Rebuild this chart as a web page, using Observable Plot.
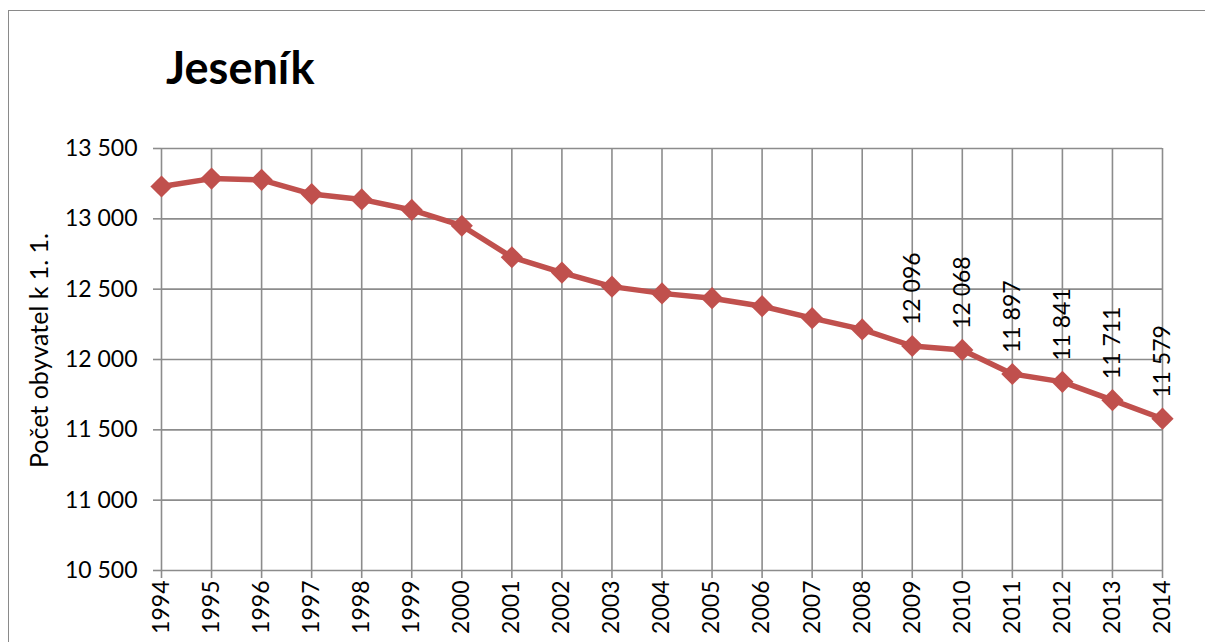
<!DOCTYPE html>
<html>
<head>
<meta charset="utf-8">
<script src="https://cdn.jsdelivr.net/npm/d3@7"></script>
<script src="https://cdn.jsdelivr.net/npm/@observablehq/plot@0.6"></script>
<style>
  html, body { margin: 0; padding: 0; background: #fff; }
  #wrap { position: relative; width: 1205px; height: 642px; overflow: hidden; }
  #frame { position: absolute; left: 8px; top: 10px; width: 1300px; height: 700px; border: 1.5px solid #8a8a8a; box-sizing: border-box; }
  #title { position: absolute; left: 166px; top: 45px; font-family: Lato, sans-serif; font-weight: bold; font-size: 45px; color: #000; margin: 0; line-height: 1; }
  #chart { position: absolute; left: 0; top: 0; }
</style>
</head>
<body>
<div id="wrap">
  <div id="frame"></div>
  <div id="chart"></div>
  <h1 id="title">Jeseník</h1>
</div>
<script>
const years = [1994,1995,1996,1997,1998,1999,2000,2001,2002,2003,2004,2005,2006,2007,2008,2009,2010,2011,2012,2013,2014];
const population = [13230,13286,13277,13176,13138,13063,12951,12727,12618,12518,12470,12436,12379,12294,12214,12096,12068,11897,11841,11711,11579];
const labeledYears = [2009,2010,2011,2012,2013,2014];
const yTicks = [10500,11000,11500,12000,12500,13000,13500];
const yLabel = "Počet obyvatel k 1. 1.";

const data = years.map((y, i) => ({year: y, value: population[i]}));
const labelData = data.filter(d => labeledYears.includes(d.year));
const fmt = v => d3.format(",")(v).replace(/,/g, "\u00a0");

const color = "#C0504D";
const gridColor = "#8c8c8c";

const chart = Plot.plot({
  width: 1205,
  height: 642,
  marginLeft: 161,
  marginRight: 43,
  marginTop: 148,
  marginBottom: 72,
  style: {fontFamily: "Lato, sans-serif", fontSize: "23px", color: "#000", background: "transparent"},
  x: {type: "linear", domain: [1994, 2014]},
  y: {domain: [10500, 13500]},
  marks: [
    Plot.gridX(years, {stroke: gridColor, strokeOpacity: 1, strokeWidth: 1.6}),
    Plot.gridY(yTicks, {stroke: gridColor, strokeOpacity: 1, strokeWidth: 1.6}),
    Plot.axisY({ticks: yTicks, tickFormat: fmt, tickSize: 8, tickPadding: 16, stroke: gridColor, strokeWidth: 1.6, label: null, fontSize: 23}),
    Plot.axisX({ticks: years, tickFormat: d => String(d), tickSize: 8, tickPadding: 2, tickRotate: -90, stroke: gridColor, strokeWidth: 1.6, label: null, fontSize: 23}),
    Plot.text([yLabel], {frameAnchor: "left", dx: -122, dy: -9, rotate: -90, text: d => d, fontSize: 25, textAnchor: "middle", lineAnchor: "middle"}),
    Plot.line(data, {x: "year", y: "value", stroke: color, strokeWidth: 5.5, strokeLinejoin: "round"}),
    Plot.dot(data, {x: "year", y: "value", symbol: "diamond2", r: 10, fill: color, stroke: "none"}),
    Plot.text(labelData, {x: "year", y: "value", text: d => fmt(d.value), rotate: -90, textAnchor: "start", lineAnchor: "middle", dy: -21, fontSize: 23})
  ]
});
document.getElementById("chart").appendChild(chart);
</script>
</body>
</html>
